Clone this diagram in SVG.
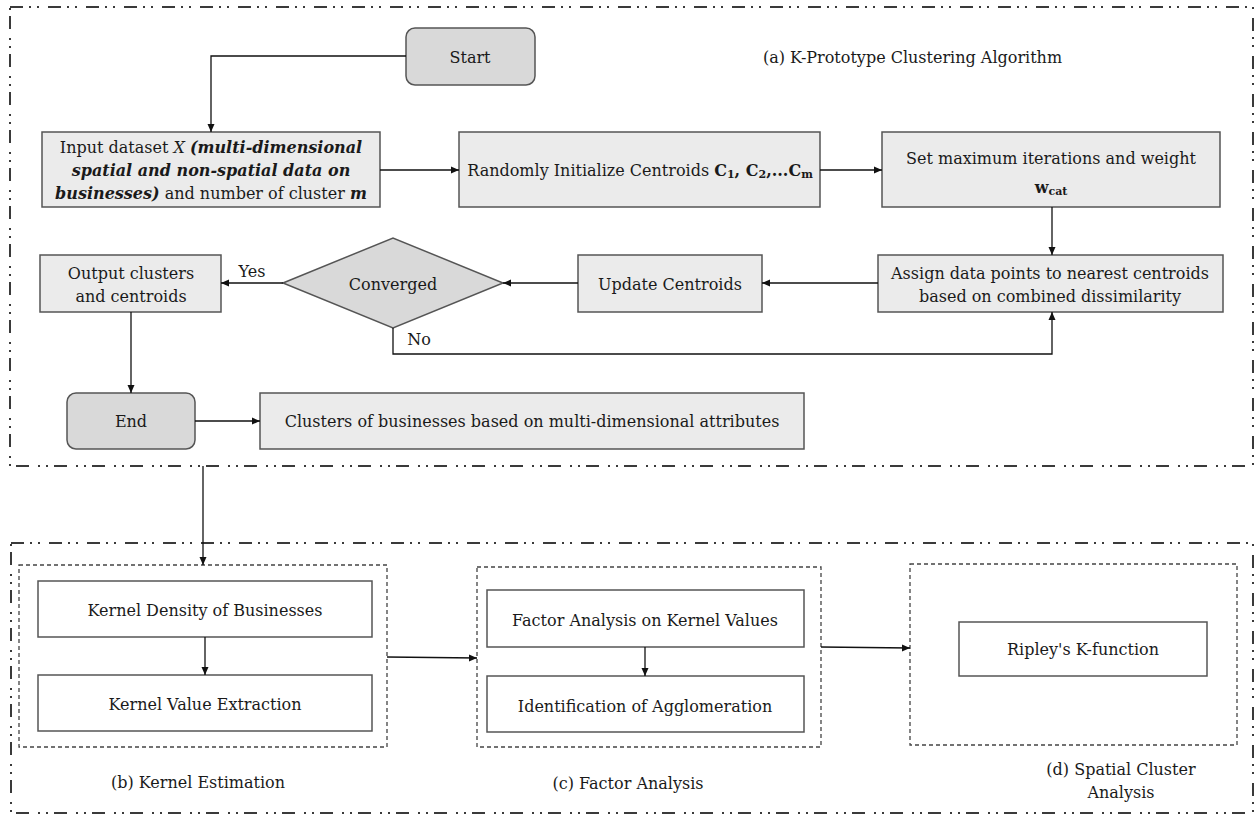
<svg xmlns="http://www.w3.org/2000/svg" width="1255" height="816" viewBox="0 0 1255 816">
<defs>
<style>
.frame{fill:none;stroke:#3a3a3a;stroke-width:2;stroke-dasharray:13 6 2 6 2 9}
.inner{fill:none;stroke:#444;stroke-width:1.3;stroke-dasharray:4 3}
.box{fill:#ebebeb;stroke:#555;stroke-width:1.5}
.term{fill:#d9d9d9;stroke:#555;stroke-width:1.5}
.wbox{fill:#fff;stroke:#555;stroke-width:1.5}
.t{font-family:"DejaVu Serif","Liberation Serif",serif;font-size:16px;fill:#1a1a1a;text-anchor:middle;dominant-baseline:central}
.lbl{font-family:"DejaVu Serif","Liberation Serif",serif;font-size:16px;fill:#1a1a1a}
.c{fill:none;stroke:#111;stroke-width:1.3}
.bi{font-weight:bold;font-style:italic}
.b{font-weight:bold}
</style>
<marker id="ah" viewBox="0 0 8 8" refX="8" refY="4" markerWidth="8" markerHeight="8" markerUnits="userSpaceOnUse" orient="auto">
<path d="M0,0.5 L8,4 L0,7.5 Z" fill="#111"/>
</marker>
</defs>
<rect width="1255" height="816" fill="#fff"/>
<g id="frames">
<rect class="frame" x="10" y="7" width="1243" height="459"/>
<rect class="frame" x="11" y="543" width="1242" height="270"/>
<rect class="inner" x="19" y="565" width="368" height="182"/>
<rect class="inner" x="477" y="567" width="344" height="180"/>
<rect class="inner" x="910" y="564" width="327" height="181"/>
</g>
<g id="labels">
<text class="lbl" x="763" y="57" dominant-baseline="central">(a) K-Prototype Clustering Algorithm</text>
<text class="t" x="198" y="782">(b) Kernel Estimation</text>
<text class="t" x="628" y="783">(c) Factor Analysis</text>
<text class="t" x="1121" y="769">(d) Spatial Cluster</text>
<text class="t" x="1121" y="792">Analysis</text>
</g>
<g id="start"><rect class="term" x="406" y="28" width="129" height="57" rx="9"/><text class="t" x="470" y="57">Start</text></g>
<g id="input"><rect class="box" x="42" y="132" width="338" height="75"/>
<text class="t" x="211" y="147">Input dataset <tspan font-style="italic">X</tspan> <tspan class="bi">(multi-dimensional</tspan></text>
<text class="t bi" x="211" y="170">spatial and non-spatial data on</text>
<text class="t" x="211" y="193"><tspan class="bi">businesses)</tspan> and number of cluster <tspan class="bi">m</tspan></text>
</g>
<g id="init"><rect class="box" x="459" y="132" width="361" height="75"/>
<text class="t" x="640" y="170">Randomly Initialize Centroids <tspan class="b">C</tspan><tspan class="b" font-size="11" dy="4">1</tspan><tspan class="b" dy="-4">, C</tspan><tspan class="b" font-size="11" dy="4">2</tspan><tspan class="b" dy="-4">,...C</tspan><tspan class="b" font-size="11" dy="4">m</tspan></text>
</g>
<g id="setmax"><rect class="box" x="882" y="132" width="338" height="75"/>
<text class="t" x="1051" y="158">Set maximum iterations and weight</text>
<text class="t" x="1051" y="187"><tspan class="b">w</tspan><tspan class="b" font-size="11" dy="4">cat</tspan></text>
</g>
<g id="assign"><rect class="box" x="878" y="255" width="345" height="57"/>
<text class="t" x="1050" y="273">Assign data points to nearest centroids</text>
<text class="t" x="1050" y="296">based on combined dissimilarity</text>
</g>
<g id="update"><rect class="box" x="578" y="255" width="184" height="57"/><text class="t" x="670" y="284">Update Centroids</text></g>
<g id="converged"><polygon class="term" points="283,283 393,238 503,283 393,328"/><text class="t" x="393" y="284">Converged</text></g>
<g id="output"><rect class="box" x="40" y="255" width="181" height="57"/>
<text class="t" x="131" y="273">Output clusters</text>
<text class="t" x="131" y="296">and  centroids</text>
</g>
<g id="end"><rect class="term" x="67" y="393" width="128" height="56" rx="9"/><text class="t" x="131" y="421">End</text></g>
<g id="clusters"><rect class="box" x="260" y="393" width="544" height="56"/><text class="t" x="532" y="421" font-size="16.5">Clusters of businesses based on multi-dimensional attributes</text></g>
<g id="kd"><rect class="wbox" x="38" y="581" width="334" height="56"/><text class="t" x="205" y="610">Kernel Density of Businesses</text></g>
<g id="kv"><rect class="wbox" x="38" y="675" width="334" height="56"/><text class="t" x="205" y="704">Kernel Value Extraction</text></g>
<g id="fa"><rect class="wbox" x="487" y="590" width="317" height="57"/><text class="t" x="645" y="620">Factor Analysis on Kernel Values</text></g>
<g id="ia"><rect class="wbox" x="487" y="676" width="317" height="56"/><text class="t" x="645" y="706">Identification of Agglomeration</text></g>
<g id="ripley"><rect class="wbox" x="959" y="622" width="248" height="54"/><text class="t" x="1083" y="649">Ripley's K-function</text></g>
<g id="edge-labels">
<text class="t" x="252" y="271">Yes</text>
<text class="t" x="419" y="339">No</text>
</g>
<g id="connectors">
<path class="c" d="M406,56 H211 V132" marker-end="url(#ah)"/>
<path class="c" d="M380,170 H459" marker-end="url(#ah)"/>
<path class="c" d="M820,170 H882" marker-end="url(#ah)"/>
<path class="c" d="M1052,207 V255" marker-end="url(#ah)"/>
<path class="c" d="M878,283 H762" marker-end="url(#ah)"/>
<path class="c" d="M578,283 H503" marker-end="url(#ah)"/>
<path class="c" d="M283,283 H221" marker-end="url(#ah)"/>
<path class="c" d="M393,328 V354 H1052 V312" marker-end="url(#ah)"/>
<path class="c" d="M131,312 V393" marker-end="url(#ah)"/>
<path class="c" d="M195,421 H260" marker-end="url(#ah)"/>
<path class="c" d="M203,466 V565" marker-end="url(#ah)"/>
<path class="c" d="M205,637 V675" marker-end="url(#ah)"/>
<path class="c" d="M387,657 L477,658" marker-end="url(#ah)"/>
<path class="c" d="M645,647 V676" marker-end="url(#ah)"/>
<path class="c" d="M821,647 L910,648" marker-end="url(#ah)"/>
</g>
</svg>
